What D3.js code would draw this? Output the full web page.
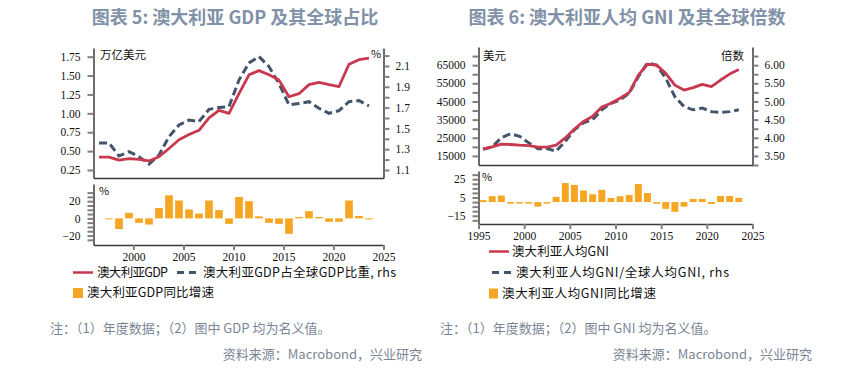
<!DOCTYPE html>
<html>
<head>
<meta charset="utf-8">
<script src="https://cdn.jsdelivr.net/npm/d3@7"></script>
<style>
  body { margin: 0; background: #fff; }
  svg { display: block; }
  .tick text { font-family: "Liberation Serif", "DejaVu Serif", serif; font-size: 11.5px; fill: #111; }
  .tick line { stroke: #7f7f7f; stroke-width: 2; }
  .domain { stroke: #3a3a3a; stroke-width: 1.5; }
  .cjk { font-family: "Noto Sans CJK SC", "Noto Sans", sans-serif; }
</style>
</head>
<body>
<svg id="svg-chart"></svg>
<script>
const width = 853;
const height = 368;

// ---- chart 5: GDP ----
const gdpYears = [1997, 1998, 1999, 2000, 2001, 2002, 2003, 2004, 2005, 2006, 2007, 2008, 2009, 2010,
  2011, 2012, 2013, 2014, 2015, 2016, 2017, 2018, 2019, 2020, 2021, 2022, 2023, 2024];
const gdpTrn = [0.42, 0.42, 0.38, 0.40, 0.39, 0.37, 0.425, 0.535, 0.65, 0.72, 0.776, 0.94, 1.04, 1.00,
  1.26, 1.51, 1.566, 1.51, 1.44, 1.22, 1.26, 1.38, 1.41, 1.38, 1.355, 1.65, 1.71, 1.73];
const gdpShare = [1.36, 1.36, 1.235, 1.276, 1.228, 1.157, 1.244, 1.42, 1.533, 1.58, 1.565, 1.683, 1.70, 1.71,
  1.965, 2.13, 2.19, 2.094, 1.93, 1.725, 1.74, 1.757, 1.693, 1.645, 1.67, 1.757, 1.767, 1.715];
const gdpGrowthYears = [1998, 1999, 2000, 2001, 2002, 2003, 2004, 2005, 2006, 2007, 2008, 2009, 2010,
  2011, 2012, 2013, 2014, 2015, 2016, 2017, 2018, 2019, 2020, 2021, 2022, 2023, 2024];
const gdpGrowth = [-1.2, -12.4, 6.4, -5.2, -7.2, 12, 26.8, 20.8, 10.4, 5.6, 20.8, 9.6, -6.4,
  24.8, 20, 2.4, -5.2, -6.4, -18, 1.6, 8.4, 1.6, -4, -4, 20.8, 2.8, -1.2];

const gdpTicks = [0.25, 0.5, 0.75, 1.0, 1.25, 1.5, 1.75];
const shareTicks = [1.1, 1.2, 1.3, 1.4, 1.5, 1.6, 1.7, 1.8, 1.9, 2.0, 2.1, 2.2];
const shareLabels = [1.1, 1.3, 1.5, 1.7, 1.9, 2.1];
const gdpGrowthTicks = [-25, -20, -15, -10, -5, 0, 5, 10, 15, 20, 25, 30];
const gdpGrowthLabels = [-20, 0, 20];
const gdpYearTicks = [2000, 2005, 2010, 2015, 2020, 2025];

// ---- chart 6: GNI per capita ----
const gniYears = [1995, 1996, 1997, 1998, 1999, 2000, 2001, 2002, 2003, 2004, 2005, 2006, 2007, 2008, 2009,
  2010, 2011, 2012, 2013, 2014, 2015, 2016, 2017, 2018, 2019, 2020, 2021, 2022, 2023];
const gni = [18900, 20000, 21500, 21300, 20900, 20700, 19800, 19800, 20900, 24900, 29850, 34000, 36800, 41900, 44000,
  46800, 49900, 59500, 65500, 65000, 60500, 54000, 51300, 52600, 54400, 53200, 56800, 60100, 62600];
const gniRatio = [3.68, 3.75, 4.0, 4.11, 4.04, 3.86, 3.70, 3.70, 3.63, 3.90, 4.22, 4.41, 4.50, 4.77, 4.95,
  5.04, 5.23, 5.68, 6.06, 6.0, 5.64, 5.13, 4.86, 4.77, 4.82, 4.72, 4.70, 4.72, 4.77];
const gniGrowth = [2.1, 6.4, 7.1, -0.5, -1, -1, -5, -0.5, 5.7, 20.8, 18.7, 12.7, 8.5, 13.4, 4.6,
  6.4, 7.8, 19.8, 9.9, -1.8, -7.4, -10.6, -5, 3.5, 3.5, -2.1, 6.7, 6.7, 4.6];

const gniTicks = [15000, 20000, 25000, 30000, 35000, 40000, 45000, 50000, 55000, 60000, 65000, 70000];
const gniLabels = [15000, 25000, 35000, 45000, 55000, 65000];
const ratioTicks = [3.25, 3.5, 3.75, 4.0, 4.25, 4.5, 4.75, 5.0, 5.25, 5.5, 5.75, 6.0, 6.25];
const ratioLabels = [3.5, 4.0, 4.5, 5.0, 5.5, 6.0];
const gniGrowthTicks = [-20, -15, -10, -5, 0, 5, 10, 15, 20, 25, 30];
const gniGrowthLabels = [-15, 5, 25];
const gniYearTicks = [1995, 2000, 2005, 2010, 2015, 2020, 2025];

const red = "#c9384f";
const navy = "#44546a";
const orange = "#f5a623";

const svg = d3.select("#svg-chart").attr("width", width).attr("height", height);
svg.append("rect").attr("width", width).attr("height", height).attr("fill", "#fff");

function pick(labels, fmt) {
  return function (d) {
    return labels.some((l) => Math.abs(l - d) < 1e-9) ? fmt(d) : "";
  };
}

function addAxis(axis, tx, ty) {
  return svg.append("g").attr("transform", "translate(" + tx + "," + ty + ")").call(axis);
}

function txt(x, y, s, size, anchor, fill) {
  return svg.append("text").attr("class", "cjk")
    .attr("x", x).attr("y", y).attr("dy", "0.35em")
    .attr("font-size", size).attr("text-anchor", anchor || "start")
    .attr("fill", fill || "#111").text(s);
}

// legend labels are stretched to the width they take in the original
function legendText(x, y, s, len) {
  return txt(x, y, s, 12.5).attr("textLength", len).attr("lengthAdjust", "spacing");
}

// ================= chart 5 =================
const x5 = d3.scaleLinear().domain([1996, 2025]).range([93.5, 383.5]);
const yGdp = d3.scaleLinear().domain([0.144, 1.865]).range([178, 48]);
const yShare = d3.scaleLinear().domain([1.023, 2.273]).range([178, 48]);
const yGdpGrowth = d3.scaleLinear().domain([-31, 40]).range([245, 184]);
const shift5 = -0.45;

addAxis(d3.axisLeft(yGdp).tickValues(gdpTicks).tickFormat(d3.format(".2f"))
  .tickSize(6).tickPadding(7).tickSizeOuter(0), x5.range()[0], 0);
addAxis(d3.axisRight(yShare).tickValues(shareTicks).tickFormat(pick(shareLabels, d3.format(".1f")))
  .tickSize(6).tickPadding(6).tickSizeOuter(0), x5.range()[1], 0);
addAxis(d3.axisBottom(x5).tickValues([]).tickSizeOuter(0), 0, 178);

addAxis(d3.axisLeft(yGdpGrowth).tickValues(gdpGrowthTicks).tickFormat(pick(gdpGrowthLabels, d3.format("d")))
  .tickSize(6).tickPadding(7).tickSizeOuter(0), x5.range()[0], 0);
addAxis(d3.axisBottom(x5).tickValues(gdpYearTicks).tickFormat(d3.format("d"))
  .tickSize(5).tickPadding(3).tickSizeOuter(0), 0, 245);

const bw5 = (x5(1) - x5(0)) * 0.77;
svg.append("g").selectAll("rect")
  .data(gdpGrowth)
  .join("rect")
  .attr("x", (d, i) => x5(gdpGrowthYears[i] + shift5) - bw5 / 2)
  .attr("width", bw5)
  .attr("y", (d) => yGdpGrowth(Math.max(0, d)))
  .attr("height", (d) => Math.max(1, Math.abs(yGdpGrowth(d) - yGdpGrowth(0))))
  .attr("fill", orange);

svg.append("path")
  .datum(gdpShare)
  .attr("fill", "none").attr("stroke", navy).attr("stroke-width", 3)
  .attr("stroke-dasharray", "8,4")
  .attr("d", d3.line().x((d, i) => x5(gdpYears[i] + shift5)).y((d) => yShare(d)));

svg.append("path")
  .datum(gdpTrn)
  .attr("fill", "none").attr("stroke", red).attr("stroke-width", 2.8)
  .attr("stroke-linejoin", "round")
  .attr("d", d3.line().x((d, i) => x5(gdpYears[i] + shift5)).y((d) => yGdp(d)));

txt(100, 55, "万亿美元", 11.5);
txt(371, 54, "%", 11);
txt(99, 191, "%", 11);

// legend 5
svg.append("line").attr("x1", 73).attr("x2", 93).attr("y1", 272.5).attr("y2", 272.5)
  .attr("stroke", red).attr("stroke-width", 2.5);
legendText(97, 272.5, "澳大利亚GDP", 71);
svg.append("line").attr("x1", 177).attr("x2", 197).attr("y1", 272.5).attr("y2", 272.5)
  .attr("stroke", navy).attr("stroke-width", 3).attr("stroke-dasharray", "7,5");
legendText(203, 272.5, "澳大利亚GDP占全球GDP比重, rhs", 193);
svg.append("rect").attr("x", 73).attr("y", 288).attr("width", 10).attr("height", 10).attr("fill", orange);
legendText(87, 293, "澳大利亚GDP同比增速", 127);

// ================= chart 6 =================
const x6 = d3.scaleLinear().domain([1995, 2025]).range([478.5, 752.5]);
const yGni = d3.scaleLinear().domain([10000, 75000]).range([165, 47]);
const yRatio = d3.scaleLinear().domain([3.25, 6.5]).range([165, 47]);
const yGniGrowth = d3.scaleLinear().domain([-24, 34]).range([224, 171]);
const shift6 = 0.5;

addAxis(d3.axisLeft(yGni).tickValues(gniTicks).tickFormat(pick(gniLabels, d3.format("d")))
  .tickSize(6).tickPadding(7).tickSizeOuter(0), x6.range()[0], 0);
addAxis(d3.axisRight(yRatio).tickValues(ratioTicks).tickFormat(pick(ratioLabels, d3.format(".2f")))
  .tickSize(6).tickPadding(6).tickSizeOuter(0), x6.range()[1], 0);
addAxis(d3.axisBottom(x6).tickValues([]).tickSizeOuter(0), 0, 165);

addAxis(d3.axisLeft(yGniGrowth).tickValues(gniGrowthTicks).tickFormat(pick(gniGrowthLabels, d3.format("d")))
  .tickSize(6).tickPadding(7).tickSizeOuter(0), x6.range()[0], 0);
addAxis(d3.axisBottom(x6).tickValues(gniYearTicks).tickFormat(d3.format("d"))
  .tickSize(5).tickPadding(3).tickSizeOuter(0), 0, 224);

const bw6 = (x6(1) - x6(0)) * 0.76;
svg.append("g").selectAll("rect")
  .data(gniGrowth)
  .join("rect")
  .attr("x", (d, i) => x6(gniYears[i] + shift6) - bw6 / 2)
  .attr("width", bw6)
  .attr("y", (d) => yGniGrowth(Math.max(0, d)))
  .attr("height", (d) => Math.max(1.5, Math.abs(yGniGrowth(d) - yGniGrowth(0))))
  .attr("fill", orange);

svg.append("path")
  .datum(gniRatio)
  .attr("fill", "none").attr("stroke", navy).attr("stroke-width", 3)
  .attr("stroke-dasharray", "8,4")
  .attr("d", d3.line().x((d, i) => x6(gniYears[i] + shift6)).y((d) => yRatio(d)));

svg.append("path")
  .datum(gni)
  .attr("fill", "none").attr("stroke", red).attr("stroke-width", 2.8)
  .attr("stroke-linejoin", "round")
  .attr("d", d3.line().x((d, i) => x6(gniYears[i] + shift6)).y((d) => yGni(d)));

txt(483, 56, "美元", 11.5);
txt(744, 56, "倍数", 11.5, "end");
txt(482, 177, "%", 11);

// legend 6
svg.append("line").attr("x1", 489).attr("x2", 509).attr("y1", 251.5).attr("y2", 251.5)
  .attr("stroke", red).attr("stroke-width", 2.5);
legendText(512, 251.5, "澳大利亚人均GNI", 97);
svg.append("line").attr("x1", 492).attr("x2", 512).attr("y1", 272.5).attr("y2", 272.5)
  .attr("stroke", navy).attr("stroke-width", 3).attr("stroke-dasharray", "7,5");
legendText(516, 272.5, "澳大利亚人均GNI/全球人均GNI, rhs", 213);
svg.append("rect").attr("x", 489).attr("y", 288.5).attr("width", 9).attr("height", 10).attr("fill", orange);
legendText(502, 293.5, "澳大利亚人均GNI同比增速", 154);

// ================= titles & notes =================
const titleColor = "#8091a8";
const noteColor = "#7b8595";
txt(235, 18, "图表 5: 澳大利亚 GDP 及其全球占比", 18, "middle", titleColor).attr("font-weight", "bold");
txt(627, 18, "图表 6: 澳大利亚人均 GNI 及其全球倍数", 18, "middle", titleColor).attr("font-weight", "bold");

txt(50, 328, "注：（1）年度数据；（2）图中 GDP 均为名义值。", 13, "start", noteColor);
txt(440, 328, "注：（1）年度数据；（2）图中 GNI 均为名义值。", 13, "start", noteColor);
txt(422, 354, "资料来源：Macrobond，兴业研究", 13, "end", noteColor);
txt(812, 354, "资料来源：Macrobond，兴业研究", 13, "end", noteColor);
</script>
</body>
</html>
